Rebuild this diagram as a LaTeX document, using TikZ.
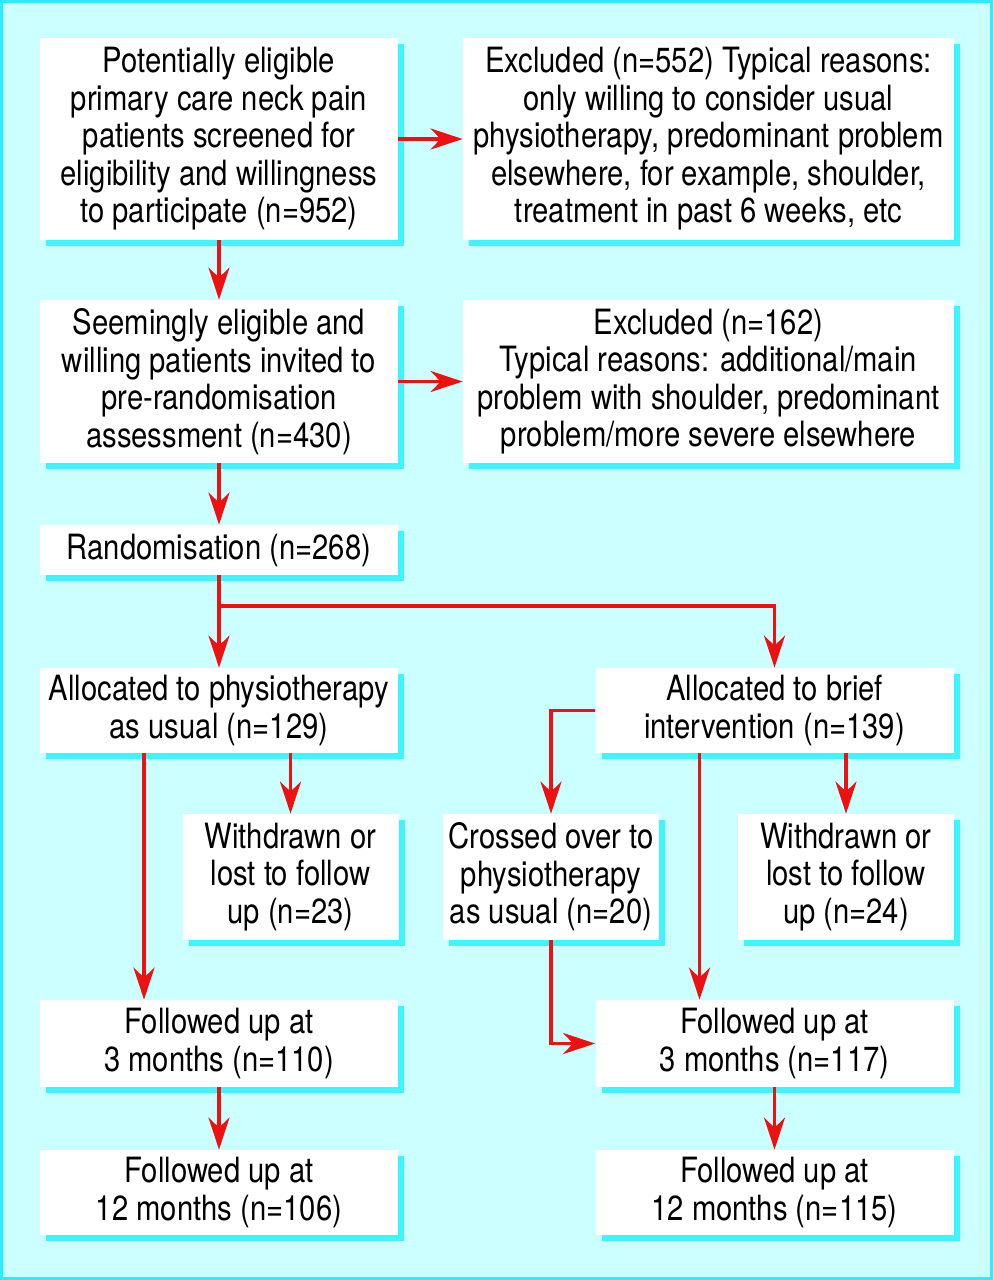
\documentclass[tikz,border=0pt]{standalone}
\usepackage{fontspec}
\setmainfont{TeX Gyre Heros}[FakeStretch=0.84]
\usetikzlibrary{arrows.meta,shadows,calc}
\definecolor{bgcyan}{RGB}{204,255,255}
\definecolor{framecyan}{RGB}{40,238,255}
\definecolor{shadowcyan}{RGB}{60,245,255}
\definecolor{arrred}{RGB}{238,17,17}
\tikzset{
  box/.style={fill=white, inner sep=0pt, align=center,
    font=\fontsize{17.4}{18.75}\selectfont,
    drop shadow={shadow xshift=3pt, shadow yshift=-3pt, fill=shadowcyan, opacity=1}},
  arr/.style={arrred, line width=1.7pt, -{Stealth[length=16pt, width=10.5pt, inset=5pt]}}
}
\begin{document}
\begin{tikzpicture}[x=0.5pt, y=-0.5pt]
  % Background and frame
  \useasboundingbox (0,0) rectangle (993,1280);
  \fill[bgcyan] (0,0) rectangle (993,1280);
  \draw[framecyan, line width=1.5pt] (1.5,1.5) rectangle (991.5,1278.5);
  % Define sizes
  \def\Wide{179pt}
  \def\Excl{245.5pt}
  \def\Small{108pt}
  % Draw boxes
  \node[box, minimum width=\Wide, minimum height=101pt] (screen) at (219,139)
    {Potentially eligible\\primary care neck pain\\patients screened for\\eligibility and willingness\\to participate (n=952)};
  \node[box, minimum width=\Excl, minimum height=101pt] (excl1) at (708.5,139)
    {Excluded (n=552) Typical reasons:\\only willing to consider usual\\physiotherapy, predominant problem\\elsewhere, for example, shoulder,\\treatment in past 6 weeks, etc};
  \node[box, minimum width=\Wide, minimum height=81.5pt] (seem) at (219,381.5)
    {Seemingly eligible and\\willing patients invited to\\pre-randomisation\\assessment (n=430)};
  \node[box, minimum width=\Excl, minimum height=81.5pt] (excl2) at (708.5,381.5)
    {Excluded (n=162)\\Typical reasons: additional/main\\problem with shoulder, predominant\\problem/more severe elsewhere};
  \node[box, minimum width=\Wide, minimum height=25pt] (rand) at (219,550)
    {Randomisation (n=268)};
  \node[box, minimum width=\Wide, minimum height=42.5pt] (physio) at (219,710.5)
    {Allocated to physiotherapy\\as usual (n=129)};
  \node[box, minimum width=\Wide, minimum height=42.5pt] (brief) at (774.5,710.5)
    {Allocated to brief\\intervention (n=139)};
  \node[box, minimum width=\Small, minimum height=63pt] (lost1) at (290.5,877)
    {Withdrawn or\\lost to follow\\up (n=23)};
  \node[box, minimum width=\Small, minimum height=63pt] (cross) at (551,877)
    {Crossed over to\\physiotherapy\\as usual (n=20)};
  \node[box, minimum width=\Small, minimum height=63pt] (lost2) at (846,877)
    {Withdrawn or\\lost to follow\\up (n=24)};
  \node[box, minimum width=\Wide, minimum height=43.5pt] (threeA) at (219,1043.5)
    {Followed up at\\3 months (n=110)};
  \node[box, minimum width=\Wide, minimum height=43.5pt] (threeB) at (774.5,1043.5)
    {Followed up at\\3 months (n=117)};
  \node[box, minimum width=\Wide, minimum height=42.5pt] (twelveA) at (219,1192.5)
    {Followed up at\\12 months (n=106)};
  \node[box, minimum width=\Wide, minimum height=42.5pt] (twelveB) at (774.5,1192.5)
    {Followed up at\\12 months (n=115)};
  \coordinate (split) at (219,606);
  % Draw arrows
  \draw[arr] (screen) -- (excl1);
  \draw[arr] (screen) -- (seem);
  \draw[arr] (seem) -- (excl2);
  \draw[arr] (seem) -- (rand);
  \draw[arr] (rand) -- (physio);
  \draw[arr] (split) -| (brief.north);
  \draw[arr] (lost1.north |- physio.south) -- (lost1.north);
  \draw[arr] ([xshift=-37.5pt]physio.south) -- ([xshift=-37.5pt]threeA.north);
  \draw[arr] (brief.west) -| (cross.north);
  \draw[arr] ([xshift=-37.5pt]brief.south) -- ([xshift=-37.5pt]threeB.north);
  \draw[arr] (lost2.north |- brief.south) -- (lost2.north);
  \draw[arr] (cross.south) |- (threeB.west);
  \draw[arr] (threeA) -- (twelveA);
  \draw[arr] (threeB) -- (twelveB);
\end{tikzpicture}
\end{document}
